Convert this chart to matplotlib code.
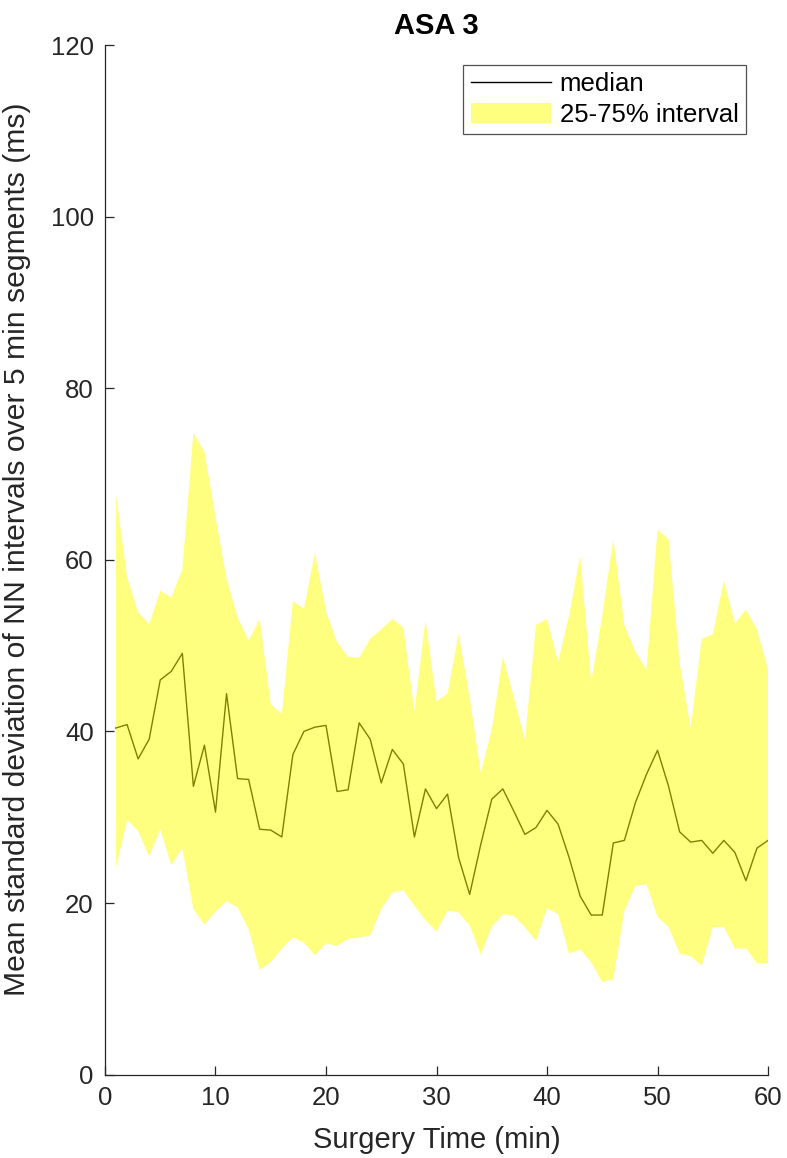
import matplotlib
matplotlib.use("Agg")
import matplotlib.pyplot as plt
import numpy as np

plt.rcParams['font.family'] = ['Liberation Sans', 'DejaVu Sans']

minutes = list(range(1, 61))

median_sdnn = [40.4, 40.8, 36.8, 39.1, 46.0, 47.0, 49.1, 33.6, 38.4, 30.6,
               44.4, 34.5, 34.4, 28.6, 28.5, 27.7, 37.3, 40.0, 40.5, 40.7,
               33.0, 33.2, 41.0, 39.1, 34.0, 37.9, 36.2, 27.7, 33.3, 31.0,
               32.7, 25.3, 21.0, 26.8, 32.1, 33.3, 30.7, 28.0, 28.8, 30.8,
               29.2, 25.3, 20.8, 18.6, 18.6, 27.0, 27.3, 31.7, 35.0, 37.8,
               33.6, 28.3, 27.1, 27.3, 25.8, 27.3, 25.9, 22.6, 26.4, 27.3]

q75_sdnn = [67.6, 58.0, 53.9, 52.5, 56.4, 55.6, 58.9, 74.8, 72.6, 65.0,
            57.8, 53.3, 50.6, 53.1, 43.2, 42.0, 55.2, 54.3, 60.8, 54.0,
            50.4, 48.7, 48.6, 50.8, 51.9, 53.1, 52.1, 42.3, 53.0, 43.5,
            44.4, 51.4, 44.0, 35.2, 40.2, 48.7, 44.0, 39.0, 52.4, 53.1,
            48.1, 53.5, 60.5, 45.8, 53.5, 62.4, 52.4, 49.3, 47.2, 63.5,
            62.4, 48.0, 40.4, 50.8, 51.3, 57.6, 52.6, 54.2, 51.9, 47.2]

q25_sdnn = [24.1, 29.7, 28.4, 25.4, 28.6, 24.4, 26.4, 19.3, 17.5, 19.0,
            20.2, 19.5, 16.9, 12.2, 13.1, 14.7, 16.0, 15.4, 13.9, 15.3,
            15.0, 15.8, 16.0, 16.2, 19.3, 21.2, 21.5, 19.7, 18.0, 16.7,
            19.1, 18.9, 17.4, 14.0, 17.2, 18.7, 18.5, 17.2, 15.6, 19.4,
            18.7, 14.1, 14.6, 13.1, 10.8, 11.1, 19.1, 22.0, 22.2, 18.4,
            17.2, 14.1, 13.8, 12.7, 17.2, 17.2, 14.7, 14.7, 13.0, 13.0]

x_ticks = [0, 10, 20, 30, 40, 50, 60]
y_ticks = [0, 20, 40, 60, 80, 100, 120]

gray = '#262626'

fig = plt.figure(figsize=(7.87, 11.58), dpi=100)
ax = fig.add_axes([0.1334, 0.0720, 0.8425, 0.8891])

# median drawn underneath; the translucent band on top tints it olive
line, = ax.plot(minutes, median_sdnn, color='black', linewidth=1.0,
                label='median', zorder=1)
band = ax.fill_between(minutes, q25_sdnn, q75_sdnn, facecolor='yellow', alpha=0.5,
                       edgecolor='none', linewidth=0, label='25-75% interval',
                       zorder=2)

ax.set_xlim(0, 60)
ax.set_ylim(0, 120)
ax.set_xticks(x_ticks)
ax.set_yticks(y_ticks)
ax.tick_params(direction='in', length=6.5, width=0.9, colors=gray,
               labelsize=18.5, pad=8)
for side in ('top', 'right'):
    ax.spines[side].set_visible(False)
for side in ('left', 'bottom'):
    ax.spines[side].set_color(gray)
    ax.spines[side].set_linewidth(0.9)

ax.set_xlabel('Surgery Time (min)', fontsize=21, color=gray, labelpad=12)
ax.set_ylabel('Mean standard deviation of NN intervals over 5 min segments (ms)',
              fontsize=21.7, color=gray)
ax.yaxis.set_label_coords(-0.112, 0.51)
ax.set_title('ASA 3', fontsize=21, fontweight='bold', pad=8)

leg = ax.legend(handles=[line, band], loc='upper right',
                bbox_to_anchor=(0.967, 0.981), borderaxespad=0,
                fontsize=18.5, frameon=True, fancybox=False,
                handlelength=3.1, handleheight=0.8, handletextpad=0.35,
                labelspacing=0.25, borderpad=0.3)
leg.get_frame().set_edgecolor(gray)
leg.get_frame().set_linewidth(0.9)
leg.legend_handles[0].set_color('black')

fig.savefig('out.png', dpi=100)
